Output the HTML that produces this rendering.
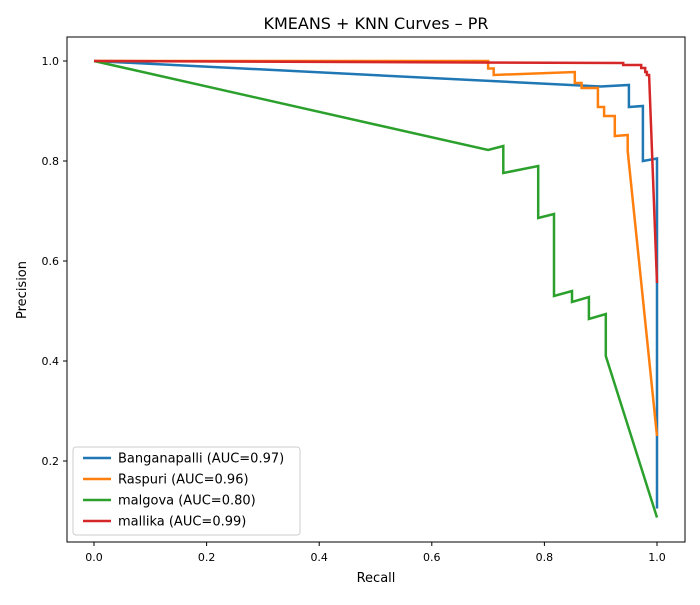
<!DOCTYPE html>
<html><head><meta charset="utf-8"><style>
body{margin:0;background:#fff;font-family:"Liberation Sans","DejaVu Sans",sans-serif}
svg text{font-family:"DejaVu Sans","Liberation Sans",sans-serif;fill:#000}
</style></head><body>
<svg id="chart" width="700" height="600" viewBox="0 0 700 600" xmlns="http://www.w3.org/2000/svg">
<rect width="700" height="600" fill="#fff"/>
<text x="376" y="29" font-size="16" text-anchor="middle">KMEANS + KNN Curves – PR</text>
<g id="lines"></g>
<rect x="67" y="37" width="618" height="505" fill="none" stroke="#000" stroke-width="1"/>
<g id="ticks"></g>
<text x="376" y="582" font-size="13" text-anchor="middle">Recall</text>
<text transform="translate(26,290) rotate(-90)" font-size="13" text-anchor="middle">Precision</text>
<g id="legend"></g>
</svg>
<script>
const xTicks=[0,0.2,0.4,0.6,0.8,1.0];
const yTicks=[0.2,0.4,0.6,0.8,1.0];
const seriesNames=["Banganapalli (AUC=0.97)","Raspuri (AUC=0.96)","malgova (AUC=0.80)","mallika (AUC=0.99)"];
const seriesColors=["#1f77b4","#ff7f0e","#2ca02c","#d62728"];
const bangRecall=[0,0.9,0.95,0.95,0.975,0.975,1,1];
const bangPrec=[1,0.949,0.952,0.908,0.91,0.80,0.805,0.105];
const raspRecall=[0,0.70,0.70,0.71,0.71,0.854,0.854,0.866,0.866,0.895,0.895,0.906,0.906,0.925,0.925,0.948,0.948,1.0];
const raspPrec=[1,1,0.985,0.985,0.972,0.978,0.956,0.956,0.946,0.946,0.908,0.908,0.89,0.89,0.85,0.852,0.82,0.25];
const malgRecall=[0,0.70,0.727,0.727,0.789,0.789,0.817,0.817,0.849,0.849,0.879,0.879,0.909,0.909,1.0];
const malgPrec=[1,0.822,0.83,0.776,0.79,0.686,0.694,0.53,0.54,0.518,0.528,0.484,0.494,0.41,0.087];
const mallRecall=[0,0.94,0.94,0.972,0.972,0.979,0.979,0.982,0.982,0.986,1.0];
const mallPrec=[1,0.996,0.992,0.992,0.986,0.986,0.978,0.978,0.972,0.972,0.556];
const recalls=[bangRecall,raspRecall,malgRecall,mallRecall];
const precs=[bangPrec,raspPrec,malgPrec,mallPrec];
const X=r=>94+563*r, Y=p=>561-500*p;
const NS="http://www.w3.org/2000/svg";
const mk=(t,a,parent)=>{const e=document.createElementNS(NS,t);for(const k in a)e.setAttribute(k,a[k]);parent.appendChild(e);return e;};
const lines=document.getElementById('lines');
const slugs=["banganapalli","raspuri","malgova","mallika"];
recalls.forEach((rs,i)=>{
  const d=rs.map((r,j)=>(j?'L':'M')+X(r).toFixed(1)+','+Y(precs[i][j]).toFixed(1)).join('');
  const p=mk('path',{d:d,fill:'none',stroke:seriesColors[i],'stroke-width':2.5,'stroke-linejoin':'miter'},lines);
  
  
});
const tk=document.getElementById('ticks');
xTicks.forEach(v=>{
  const l=mk('line',{x1:X(v),x2:X(v),y1:542,y2:546,stroke:'#000'},tk);
  
  
  const t=mk('text',{x:X(v),y:561,'font-size':11,'text-anchor':'middle'},tk);
  t.textContent=v.toFixed(1);
  
  
});
yTicks.forEach(v=>{
  const l=mk('line',{x1:63,x2:67,y1:Y(v),y2:Y(v),stroke:'#000'},tk);
  
  
  const t=mk('text',{x:59,y:Y(v)+4,'font-size':11,'text-anchor':'end'},tk);
  t.textContent=v.toFixed(1);
  
  
});
const lg=document.getElementById('legend');
const box=mk('rect',{x:73,y:447,width:227,height:88,rx:3,fill:'#fff','fill-opacity':0.8,stroke:'#ccc'},lg);


seriesNames.forEach((n,i)=>{
  const y=458+21*i;
  const l=mk('line',{x1:83,x2:111,y1:y,y2:y,stroke:seriesColors[i],'stroke-width':2.5},lg);
  
  
  const t=mk('text',{x:118,y:y+4.5,'font-size':13},lg);
  t.textContent=n;
  
  
});
</script>
</body></html>
